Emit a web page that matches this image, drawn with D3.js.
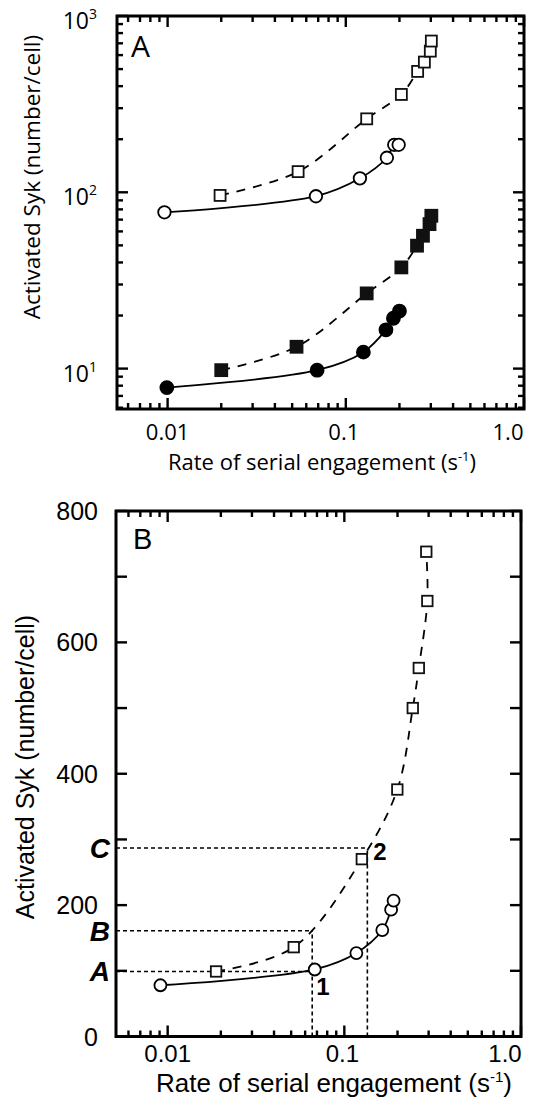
<!DOCTYPE html>
<html><head><meta charset="utf-8">
<script src="https://cdn.jsdelivr.net/npm/d3@7"></script>
<style>body{margin:0;background:#fff}</style>
</head><body>
<svg id="c" width="533" height="1097"></svg>
<script>
// ---------- DATA ----------
// Panel A (log-log)
const openCircleX_A   = [0.0096, 0.068, 0.120, 0.170, 0.187, 0.198];
const openCircleY_A   = [77, 95, 120, 157, 186, 186];
const openSquareX_A   = [0.0197, 0.054, 0.131, 0.205, 0.253, 0.276, 0.298, 0.302];
const openSquareY_A   = [96, 131, 261, 359, 485, 548, 632, 721];
const filledCircleX_A = [0.0099, 0.069, 0.1255, 0.168, 0.185, 0.200];
const filledCircleY_A = [7.8, 9.8, 12.4, 16.6, 19.3, 21.2];
const filledSquareX_A = [0.020, 0.0529, 0.131, 0.205, 0.251, 0.271, 0.295, 0.302];
const filledSquareY_A = [9.8, 13.3, 26.7, 37.5, 49.8, 56.7, 66, 73.6];
const xTickLabels = ["0.01", "0.1", "1.0"];
const xTickValues = [0.01, 0.1, 1.0];
const yTickExpA   = [1, 2, 3];
// Panel B (log x, linear y)
const openCircleX_B = [0.0091, 0.068, 0.117, 0.164, 0.184, 0.190];
const openCircleY_B = [78, 102, 127, 162, 193, 207];
const openSquareX_B = [0.0188, 0.0517, 0.1256, 0.1995, 0.244, 0.264, 0.295, 0.291];
const openSquareY_B = [99, 136, 270, 376, 500, 561, 663, 738];
const yTickValuesB  = [0, 200, 400, 600, 800];
const refYValues = [99, 161, 287];
const refYLabels = ["A", "B", "C"];
const refXValues = [0.0658, 0.135];
const refXLabels = ["1", "2"];
const refHLineEnd = [0, 0, 1];   // which vertical each horizontal runs to
const refVLineTop = [1, 2];      // which horizontal each vertical rises to
const yTitle = "Activated Syk (number/cell)";
const xTitle = "Rate of serial engagement (s";

// ---------- DRAW ----------
const svg = d3.select("#c");
const zip = (xs, ys) => xs.map((x, i) => [x, ys[i]]);

function logTicks(lo, hi) {
  const out = [];
  for (let e = -3; e <= 3; e++) for (let m = 1; m <= 9; m++) {
    const v = m * Math.pow(10, e);
    if (v >= lo * 0.999 && v <= hi * 1.001) out.push({v, major: m === 1});
  }
  return out;
}

function frame(g, x, y, xt, yt, L, R, T, B) {
  xt.forEach(t => {
    const px = x(t.v), len = t.major ? 11 : 6;
    g.append("line").attr("x1", px).attr("x2", px).attr("y1", B).attr("y2", B - len)
      .attr("stroke", "#000").attr("stroke-width", 2.4);
    g.append("line").attr("x1", px).attr("x2", px).attr("y1", T).attr("y2", T + len)
      .attr("stroke", "#000").attr("stroke-width", 2.4);
  });
  yt.forEach(t => {
    const py = y(t.v), len = t.major ? 11 : 6;
    g.append("line").attr("x1", L).attr("x2", L + len).attr("y1", py).attr("y2", py)
      .attr("stroke", "#000").attr("stroke-width", 2.4);
    g.append("line").attr("x1", R).attr("x2", R - len).attr("y1", py).attr("y2", py)
      .attr("stroke", "#000").attr("stroke-width", 2.4);
  });
  g.append("rect").attr("x", L).attr("y", T).attr("width", R - L).attr("height", B - T)
    .attr("fill", "none").attr("stroke", "#000").attr("stroke-width", 3);
}

function series(g, x, y, pts, dashed, shape, filled, size) {
  const line = d3.line().x(d => x(d[0])).y(d => y(d[1])).curve(d3.curveCatmullRom.alpha(0.5));
  g.append("path").attr("d", line(pts)).attr("fill", "none").attr("stroke", "#000")
    .attr("stroke-width", 1.8).attr("stroke-dasharray", dashed ? "9,8" : null);
  pts.forEach(d => {
    const px = x(d[0]), py = y(d[1]);
    if (shape === "circle") {
      g.append("circle").attr("cx", px).attr("cy", py).attr("r", size / 2)
        .attr("fill", filled ? "#000" : "#fff").attr("stroke", "#000").attr("stroke-width", 1.8);
    } else {
      g.append("rect").attr("x", px - size / 2).attr("y", py - size / 2)
        .attr("width", size).attr("height", size)
        .attr("fill", filled ? "#111" : "#fff").attr("stroke", "#111").attr("stroke-width", 1.8);
    }
  });
}

// x positions of tick labels (the last one is pulled inside the frame)
const tickLabelShift = [0, -2, -16];

// ----- Panel A -----
{
  const L = 117, R = 524, T = 16, B = 409;
  const fA = "'Open Sans', sans-serif";
  const x = d3.scaleLog().domain([0.0052, 1.0]).range([L, R]);
  const y = d3.scaleLog().domain([5.9, 1000]).range([B, T]);
  const g = svg.append("g");
  series(g, x, y, zip(openSquareX_A, openSquareY_A), true, "square", false, 11);
  series(g, x, y, zip(openCircleX_A, openCircleY_A), false, "circle", false, 12.5);
  series(g, x, y, zip(filledSquareX_A, filledSquareY_A), true, "square", true, 12);
  series(g, x, y, zip(filledCircleX_A, filledCircleY_A), false, "circle", true, 13);
  frame(g, x, y, logTicks(0.0052, 1.0), logTicks(5.9, 1000), L, R, T, B);

  xTickValues.forEach((v, i) => {
    g.append("text").attr("x", x(v) + tickLabelShift[i]).attr("y", 440).attr("text-anchor", "middle")
      .attr("font-family", fA).attr("font-size", 22).text(xTickLabels[i]);
  });
  yTickExpA.forEach(e => {
    const t = g.append("text").attr("x", 97).attr("y", y(Math.pow(10, e)) + 13)
      .attr("text-anchor", "end").attr("font-family", fA).attr("font-size", 23);
    t.append("tspan").text("10");
    t.append("tspan").attr("dy", -10).attr("font-size", 14).text(String(e));
  });
  const xt = g.append("text").attr("x", 322).attr("y", 470).attr("text-anchor", "middle")
    .attr("font-family", fA).attr("font-size", 22);
  xt.append("tspan").text(xTitle);
  xt.append("tspan").attr("dy", -9).attr("font-size", 13).text("-1");
  xt.append("tspan").attr("dy", 9).text(")");
  g.append("text").attr("transform", "translate(40,177) rotate(-90)").attr("text-anchor", "middle")
    .attr("font-family", fA).attr("font-size", 22.5).text(yTitle);
  g.append("text").attr("x", 131).attr("y", 57).attr("font-family", fA).attr("font-size", 30).text("A");
}

// ----- Panel B -----
{
  const L = 116, R = 521, T = 511, B = 1036.5;
  const fB = "'Liberation Sans', Arial, sans-serif";
  const x = d3.scaleLog().domain([0.0051, 1.0]).range([L, R]);
  const y = d3.scaleLinear().domain([0, 800]).range([B, T]);
  const g = svg.append("g");

  refYValues.forEach((v, i) => {
    g.append("line").attr("x1", L).attr("x2", x(refXValues[refHLineEnd[i]]))
      .attr("y1", y(v)).attr("y2", y(v))
      .attr("stroke", "#000").attr("stroke-width", 1.6).attr("stroke-dasharray", "4,3");
    g.append("text").attr("x", 110).attr("y", y(v) + 10).attr("text-anchor", "end")
      .attr("font-family", fB).attr("font-size", 28).attr("font-weight", "bold")
      .attr("font-style", "italic").text(refYLabels[i]);
  });
  refXValues.forEach((v, i) => {
    g.append("line").attr("x1", x(v)).attr("x2", x(v))
      .attr("y1", B).attr("y2", y(refYValues[refVLineTop[i]]))
      .attr("stroke", "#000").attr("stroke-width", 1.6).attr("stroke-dasharray", "4,3");
  });
  g.append("text").attr("x", x(refXValues[0]) + 4).attr("y", 995).attr("font-family", fB)
    .attr("font-size", 24).attr("font-weight", "bold").text(refXLabels[0]);
  g.append("text").attr("x", x(refXValues[1]) + 6).attr("y", 860).attr("font-family", fB)
    .attr("font-size", 24).attr("font-weight", "bold").text(refXLabels[1]);

  series(g, x, y, zip(openSquareX_B, openSquareY_B), true, "square", false, 10.5);
  series(g, x, y, zip(openCircleX_B, openCircleY_B), false, "circle", false, 12);

  const yt = d3.range(0, 801, 100).map(v => ({v, major: true}));
  frame(g, x, y, logTicks(0.0051, 1.0), yt, L, R, T, B);

  xTickValues.forEach((v, i) => {
    g.append("text").attr("x", x(v) + tickLabelShift[i]).attr("y", 1062).attr("text-anchor", "middle")
      .attr("font-family", fB).attr("font-size", 24).text(xTickLabels[i]);
  });
  yTickValuesB.forEach(v => {
    g.append("text").attr("x", 98).attr("y", y(v) + 9).attr("text-anchor", "end")
      .attr("font-family", fB).attr("font-size", 25).text(String(v));
  });
  const xt = g.append("text").attr("x", 334).attr("y", 1092).attr("text-anchor", "middle")
    .attr("font-family", fB).attr("font-size", 26);
  xt.append("tspan").text(xTitle);
  xt.append("tspan").attr("dy", -10).attr("font-size", 15).text("-1");
  xt.append("tspan").attr("dy", 10).text(")");
  g.append("text").attr("transform", "translate(34,767) rotate(-90)").attr("text-anchor", "middle")
    .attr("font-family", fB).attr("font-size", 25).text(yTitle);
  g.append("text").attr("x", 133).attr("y", 549).attr("font-family", fB).attr("font-size", 29).text("B");
}
</script>
</body></html>
